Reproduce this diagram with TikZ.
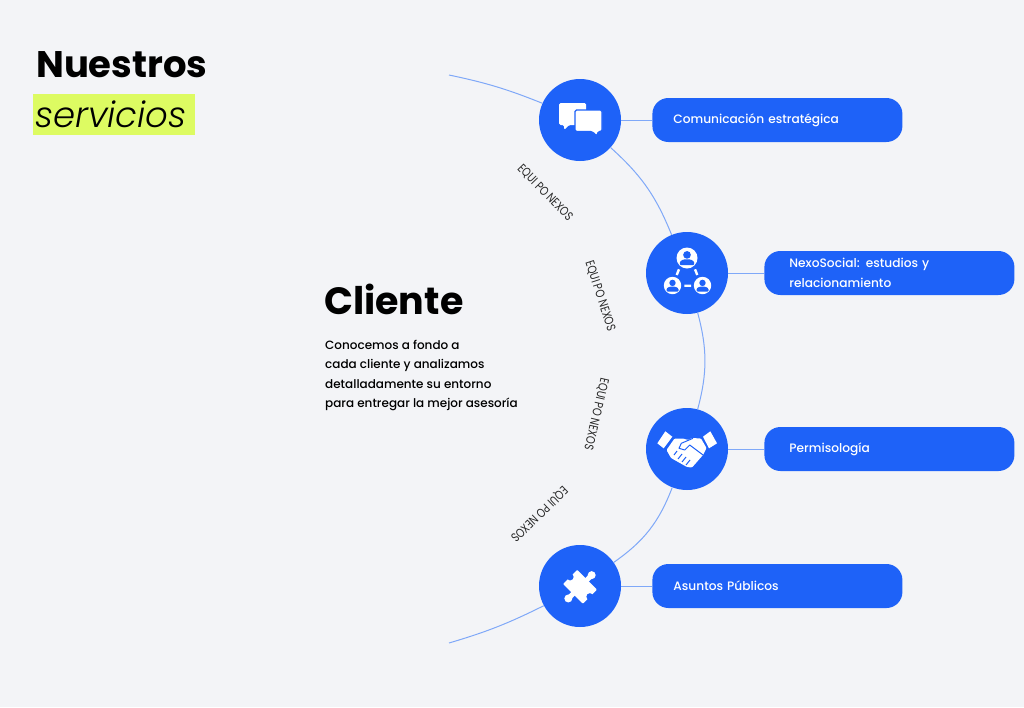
\documentclass[tikz,border=0pt]{standalone}
\usepackage{fontspec}
\setmainfont{Poppins}
\newfontfamily\medfont{Poppins Medium}
\newfontfamily\lightit{Poppins Light Italic}
\usepackage{xcolor}
\usetikzlibrary{positioning}
\definecolor{pagebg}{HTML}{F3F4F7}
\definecolor{nexoblue}{HTML}{1E62F8}
\definecolor{arcblue}{HTML}{7FA8F8}
\definecolor{marker}{HTML}{DDFB62}
\newcommand{\fsz}[1]{\fontsize{#1}{#1}\selectfont}
\tikzset{
    icon/.style={circle,fill=nexoblue,minimum size=82pt,inner sep=0pt},
    svc/.style={fill=nexoblue,rounded corners=16pt,minimum height=44pt,text=white,align=left,font=\medfont\fontsize{12.2}{19.5}\selectfont},
    narrowsvc/.style={svc,text width=208pt,inner xsep=21pt},
    widesvc/.style={svc,text width=200pt,inner xsep=25pt},
    arcline/.style={arcblue,line width=1pt},
    team/.style={font=\fsz{12.5},inner sep=0pt,text=black!85},
}
\newcommand{\teamlabel}{\scalebox{.8}[1]{EQUI PO NEXOS}}
\begin{document}
\begin{tikzpicture}[x=1pt,y=-1pt]
    \useasboundingbox[fill=pagebg] (0,0) rectangle (1024,707);
    % heading
    \node[anchor=west,inner sep=0pt,font=\fsz{37}\bfseries] (title) at (36,65) {Nuestros};
    \node[anchor=west,fill=marker,minimum width=162pt,minimum height=41pt,inner sep=0pt] (mark) at (33,114.5) {};
    \node[anchor=west,inner sep=0pt,font=\lightit\fsz{35.5}] (subtitle) at (35,114) {servicios};
    \node[anchor=west,inner sep=0pt,font=\fsz{38}\bfseries] (client) at (324,299) {Cliente};
    \node[anchor=north west,inner sep=0pt,align=left,font=\medfont\fontsize{12}{19.5}\selectfont] (intro) at (325,340) {Conocemos a fondo a\\cada cliente y analizamos\\detalladamente su entorno\\para entregar la mejor asesoría};
    % circles
    \coordinate (top) at (449,75);
    \coordinate (bottom) at (449,643);
    \node[icon] (chat) at (580,120) {};
    \node[icon] (network) at (687,273) {};
    \node[icon] (hands) at (687,449) {};
    \node[icon] (puzzle) at (580,586) {};
    % boxes
    \node[narrowsvc,right=31pt of chat] (comm) {Comunicación estratégica};
    \node[widesvc,right=36pt of network] (social) {NexoSocial: estudios y\\relacionamiento};
    \node[widesvc,right=36pt of hands] (perm) {Permisología};
    \node[narrowsvc,right=31pt of puzzle] (public) {Asuntos Públicos};
    % arc
    \draw[arcline] (top) to[bend left=5] (chat);
    \draw[arcline] (chat) to[bend left=13] (network);
    \draw[arcline] (network) to[bend left=15] (hands);
    \draw[arcline] (hands) to[bend left=17] (puzzle);
    \draw[arcline] (puzzle) to[bend left=5] (bottom);
    \draw[arcline] (chat)--(comm);
    \draw[arcline] (network)--(social);
    \draw[arcline] (hands)--(perm);
    \draw[arcline] (puzzle)--(public);
    % labels
    \node[team,rotate=-46] (teama) at (545,193) {\teamlabel};
    \node[team,rotate=-72] (teamb) at (600,296) {\teamlabel};
    \node[team,rotate=-103] (teamc) at (596,414) {\teamlabel};
    \node[team,rotate=-136] (teamd) at (539,514) {\teamlabel};
    % chat icon
    \begin{scope}[shift={(chat.center)}]
    \fill[white,rounded corners=1.5pt] (-21,-17)--(6,-17)--(6,5)--(-11,5)--(-16,10)--(-16,5)--(-21,5)--cycle;
    \filldraw[white,draw=nexoblue,line width=1.2pt,rounded corners=1.5pt] (-5,-10)--(22,-10)--(22,11.5)--(18,11.5)--(17,16)--(12,11.5)--(-5,11.5)--cycle;
    \end{scope}
    % network icon
    \begin{scope}[shift={(network.center)}]
    \draw[white,line width=2.4pt] (-8,-3.7)--(-10.3,2) (8,-3.7)--(10.3,2) (-2.7,12.7)--(4,12.7);
    \fill[white] (0,-15) circle (10.5) (-14.5,12.5) circle (8.7) (15.5,12.5) circle (8.7);
    \foreach \px/\py/\ps in {0/-15/1.2,-14.5/12.5/1,15.5/12.5/1}{
        \fill[nexoblue] (\px,\py-2.6*\ps) circle (3.2*\ps);
        \fill[nexoblue,rounded corners=1pt] (\px-6*\ps,\py+6*\ps)--(\px-6*\ps,\py+3*\ps)--(\px-3*\ps,\py+1.2*\ps)--(\px+3*\ps,\py+1.2*\ps)--(\px+6*\ps,\py+3*\ps)--(\px+6*\ps,\py+6*\ps)--cycle;
    }
    \end{scope}
    % handshake icon
    \begin{scope}[shift={(hands.center)}]
    \fill[white] (-29.7,-5.7)--(-21.7,-17.7)--(-14.7,-12.3)--(-23.3,-.7)--cycle;
    \fill[white] (16,-12.3)--(23.3,-17.7)--(30,-5.7)--(22,-.7)--cycle;
    \fill[white,rounded corners=1pt] (-12.5,-10.5)--(-4,-10.5)--(1,-9)--(5,-11)--(14,-10.5)--(19.5,-1)--(16,6)--(5,18.5)--(0,18)--(-16,9)--(-20.5,1)--cycle;
    \draw[nexoblue,line width=1pt,line join=round] (6,-10.7)--(-5.7,-5.7)--(-8,-.7)--(-2.3,1)--(2.7,-4)--(16,6);
    \draw[nexoblue,line width=1pt] (-13,6)--(-10,2) (-9,10)--(-5,5) (-5,13)--(-1,8) (-1,16)--(3,11);
    \end{scope}
    % puzzle icon
    \begin{scope}[shift={(puzzle.center)},yshift=-.8pt,rotate=-45]
    \fill[white,rounded corners=.8pt] (-14,-10) rectangle (14,10);
    \fill[white] (-2.5,-14) rectangle (2.5,14);
    \fill[white] (0,-16.5) circle (4) (0,16.5) circle (4);
    \fill[nexoblue] (-14,0) circle (3.5) (14,0) circle (3.5);
    \end{scope}
    \end{tikzpicture}
\end{document}
